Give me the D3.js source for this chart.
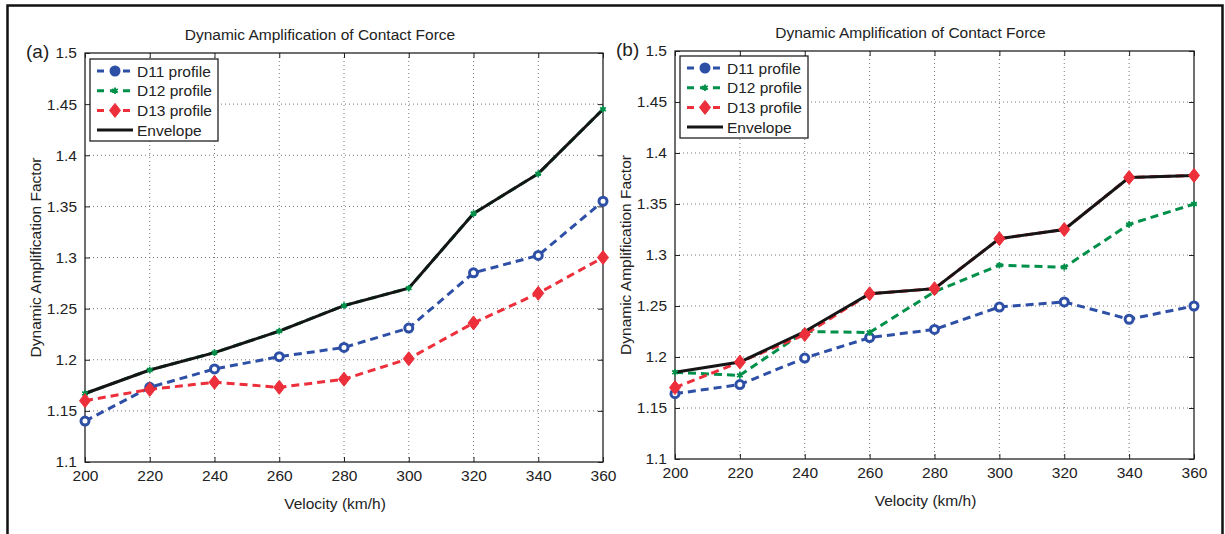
<!DOCTYPE html>
<html>
<head>
<meta charset="utf-8">
<script src="https://cdn.jsdelivr.net/npm/d3@7"></script>
<style>
body { margin: 0; background: #fff; }
text { font-family: "Liberation Sans", Arial, sans-serif; fill: #222; }
</style>
</head>
<body>
<script>
var w = 1225
var h = 534

// velocities (km/h)
var velocity = [200, 220, 240, 260, 280, 300, 320, 340, 360]
var xTicks = [200, 220, 240, 260, 280, 300, 320, 340, 360]
var yTicks = [1.1, 1.15, 1.2, 1.25, 1.3, 1.35, 1.4, 1.45, 1.5]

// panel (a)
var a_D11 = [1.140, 1.173, 1.191, 1.203, 1.212, 1.231, 1.285, 1.302, 1.355]
var a_D12 = [1.167, 1.190, 1.207, 1.228, 1.253, 1.270, 1.343, 1.382, 1.445]
var a_D13 = [1.160, 1.171, 1.178, 1.173, 1.181, 1.201, 1.236, 1.265, 1.300]
var a_Env = [1.167, 1.190, 1.207, 1.228, 1.253, 1.270, 1.343, 1.382, 1.445]

// panel (b)
var b_D11 = [1.164, 1.173, 1.199, 1.219, 1.227, 1.249, 1.254, 1.237, 1.250]
var b_D12 = [1.185, 1.182, 1.225, 1.224, 1.264, 1.290, 1.288, 1.330, 1.350]
var b_D13 = [1.170, 1.195, 1.222, 1.262, 1.267, 1.316, 1.325, 1.376, 1.378]
var b_Env = [1.185, 1.195, 1.225, 1.262, 1.267, 1.316, 1.325, 1.376, 1.378]

var blue = "#2e4fa6"
var green = "#00904a"
var red = "#ec2f3a"
var black = "#151515"
var fs = "15.5px"

var svg = d3.select("body")
    .append("svg")
    .attr("width", w)
    .attr("height", h)

// outer frame
svg.append("path")
    .attr("d", "M7.5," + h + " L7.5,5.5 L" + (w - 2.5) + ",5.5 L" + (w - 2.5) + "," + h)
    .attr("fill", "none")
    .attr("stroke", "#111")
    .attr("stroke-width", 2.5)

function drawMarker(g, type, color, x, y) {
    if (type == "circle") {
        g.append("circle")
            .attr("cx", x).attr("cy", y).attr("r", 4)
            .attr("fill", "#fff")
            .attr("stroke", color)
            .attr("stroke-width", 3)
    } else if (type == "star") {
        g.append("path")
            .attr("transform", "translate(" + x + "," + y + ")")
            .attr("d", d3.symbol().type(d3.symbolAsterisk).size(30)())
            .attr("stroke", color)
            .attr("stroke-width", 1.8)
            .attr("fill", color)
        g.append("circle")
            .attr("cx", x).attr("cy", y).attr("r", 2)
            .attr("fill", color)
    } else if (type == "diamond") {
        g.append("path")
            .attr("d", "M" + x + "," + (y - 7) + " L" + (x + 5.5) + "," + y + " L" + x + "," + (y + 7) + " L" + (x - 5.5) + "," + y + "Z")
            .attr("fill", color)
            .attr("stroke", color)
            .attr("stroke-width", 1)
    }
}

function drawPanel(opt) {
    var x = d3.scaleLinear().domain([200, 360]).range([opt.left, opt.right])
    var y = d3.scaleLinear().domain([1.1, 1.5]).range([opt.bottom, opt.top])
    var g = svg.append("g")

    // grid
    g.selectAll(".gx").data(xTicks.slice(1, -1)).enter()
        .append("line")
        .attr("x1", function(d) { return x(d) }).attr("x2", function(d) { return x(d) })
        .attr("y1", opt.top).attr("y2", opt.bottom)
        .attr("stroke", "#777").attr("stroke-width", 1).attr("stroke-dasharray", "1,3")
    g.selectAll(".gy").data(yTicks.slice(1, -1)).enter()
        .append("line")
        .attr("y1", function(d) { return y(d) }).attr("y2", function(d) { return y(d) })
        .attr("x1", opt.left).attr("x2", opt.right)
        .attr("stroke", "#777").attr("stroke-width", 1).attr("stroke-dasharray", "1,3")

    // axes (ticks inward, on all four sides)
    var xb = d3.axisBottom(x).tickValues(xTicks).tickSize(-5).tickPadding(8).tickFormat(d3.format("d"))
    var xt = d3.axisTop(x).tickValues(xTicks).tickSize(-5).tickFormat("")
    var yl = d3.axisLeft(y).tickValues(yTicks).tickSize(-5).tickPadding(8).tickFormat(function(d) { return d3.format("")(+d.toFixed(2)) })
    var yr = d3.axisRight(y).tickValues(yTicks).tickSize(-5).tickFormat("")

    var ax = [
        g.append("g").attr("transform", "translate(0," + opt.bottom + ")").call(xb),
        g.append("g").attr("transform", "translate(0," + opt.top + ")").call(xt),
        g.append("g").attr("transform", "translate(" + opt.left + ",0)").call(yl),
        g.append("g").attr("transform", "translate(" + opt.right + ",0)").call(yr)
    ]
    ax.forEach(function(a) {
        a.select(".domain").remove()
        a.selectAll("line").attr("stroke", "#222")
        a.selectAll("text").style("font-size", fs).attr("fill", "#222")
    })
    g.append("rect")
        .attr("x", opt.left).attr("y", opt.top)
        .attr("width", opt.right - opt.left).attr("height", opt.bottom - opt.top)
        .attr("fill", "none").attr("stroke", "#222").attr("stroke-width", 1.3)

    var line = d3.line()
        .x(function(d, i) { return x(velocity[i]) })
        .y(function(d) { return y(d) })

    var series = [
        { name: "D11 profile", data: opt.d11, color: blue, marker: "circle", dash: "8,5" },
        { name: "D12 profile", data: opt.d12, color: green, marker: "star", dash: "8,5" },
        { name: "D13 profile", data: opt.d13, color: red, marker: "diamond", dash: "8,5" },
        { name: "Envelope", data: opt.env, color: black, marker: null, dash: null }
    ]

    series.forEach(function(s) {
        g.append("path")
            .datum(s.data)
            .attr("d", line)
            .attr("fill", "none")
            .attr("stroke", s.color)
            .attr("stroke-width", 3)
            .attr("stroke-dasharray", s.dash)
    })
    series.forEach(function(s) {
        if (!s.marker) return
        s.data.forEach(function(d, i) {
            drawMarker(g, s.marker, s.color, x(velocity[i]), y(d))
        })
    })

    // legend
    var lg = g.append("g")
    lg.append("rect")
        .attr("x", opt.legX).attr("y", opt.legY)
        .attr("width", 128).attr("height", 82)
        .attr("fill", "#fff").attr("stroke", "#222").attr("stroke-width", 1.3)
    series.forEach(function(s, i) {
        var yy = opt.legY + 12 + i * 19.7
        lg.append("line")
            .attr("x1", opt.legX + 7).attr("x2", opt.legX + 43)
            .attr("y1", yy).attr("y2", yy)
            .attr("stroke", s.color).attr("stroke-width", 3)
            .attr("stroke-dasharray", s.dash ? "7,6" : null)
        if (s.marker == "circle") {
            lg.append("circle").attr("cx", opt.legX + 25).attr("cy", yy).attr("r", 5.5).attr("fill", s.color)
        } else if (s.marker) {
            drawMarker(lg, s.marker, s.color, opt.legX + 25, yy)
        }
        lg.append("text")
            .attr("x", opt.legX + 47).attr("y", yy + 5.5)
            .style("font-size", fs)
            .text(s.name)
    })

    // labels
    var cx = (opt.left + opt.right) / 2
    g.append("text")
        .attr("x", cx - 24).attr("y", opt.top - 13)
        .attr("text-anchor", "middle")
        .style("font-size", fs)
        .text("Dynamic Amplification of Contact Force")
    g.append("text")
        .attr("x", cx - 9).attr("y", opt.bottom + 47)
        .attr("text-anchor", "middle")
        .style("font-size", fs)
        .text("Velocity (km/h)")
    g.append("text")
        .attr("transform", "translate(" + opt.ylabX + "," + ((opt.top + opt.bottom) / 2) + ") rotate(-90)")
        .attr("text-anchor", "middle")
        .style("font-size", fs)
        .text("Dynamic Amplification Factor")
    g.append("text")
        .attr("x", opt.tagX).attr("y", opt.top + 5)
        .style("font-size", "19px")
        .text(opt.tag)
}

drawPanel({
    left: 85, right: 603, top: 53, bottom: 462,
    d11: a_D11, d12: a_D12, d13: a_D13, env: a_Env,
    legX: 90, legY: 59, ylabX: 41, tagX: 26, tag: "(a)"
})
drawPanel({
    left: 675, right: 1194, top: 51, bottom: 459,
    d11: b_D11, d12: b_D12, d13: b_D13, env: b_Env,
    legX: 680, legY: 56, ylabX: 631, tagX: 616, tag: "(b)"
})
</script>
</body>
</html>
